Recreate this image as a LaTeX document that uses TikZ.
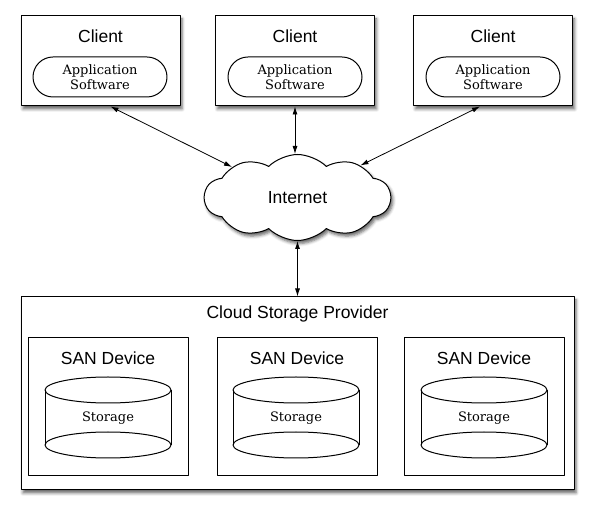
\documentclass[tikz,border=0pt]{standalone}
\usepackage{fontspec}
\setmainfont{Liberation Sans}
\newfontfamily\appfont{DejaVu Serif}
\usetikzlibrary{shapes.symbols,shadows.blur,arrows.meta}

\begin{document}
\begin{tikzpicture}[>={Latex[length=8bp,width=5bp]},line join=bevel,
  shade/.style={blur shadow={shadow xshift=2bp,shadow yshift=-3bp,shadow blur radius=3bp,shadow opacity=60}},
  clientbox/.style={draw,fill=white,shade,minimum width=159bp,minimum height=90bp,inner sep=0pt},
  appbox/.style={draw,rounded corners=20bp,minimum width=134bp,minimum height=40bp,inner sep=0pt,align=center,font=\appfont\fontsize{13bp}{15bp}\selectfont},
  sanbox/.style={draw,minimum width=160bp,minimum height=138bp,inner sep=0pt},
  label/.style={inner sep=0pt,font=\fontsize{17.5bp}{21bp}\selectfont},
  storelabel/.style={inner sep=0pt,font=\appfont\fontsize{13bp}{15bp}\selectfont},
  link/.style={<->,line width=0.8bp}]
  \pgfsetlinewidth{1bp}
  \useasboundingbox (0bp,0bp) rectangle (593bp,514bp);
%%
  % Node: client1
\begin{scope}
  \node[clientbox] (client1) at (100.5bp,453bp) {};
  \node[label] (client1label) at (100.5bp,478bp) {Client};
  \node[appbox] (app1) at (100bp,437bp) {Application\\Software};
\end{scope}
  % Node: client2
\begin{scope}
  \node[clientbox] (client2) at (295bp,453bp) {};
  \node[label] (client2label) at (295bp,478bp) {Client};
  \node[appbox] (app2) at (295bp,437bp) {Application\\Software};
\end{scope}
  % Node: client3
\begin{scope}
  \node[clientbox] (client3) at (493bp,453bp) {};
  \node[label] (client3label) at (493bp,478bp) {Client};
  \node[appbox] (app3) at (493bp,437bp) {Application\\Software};
\end{scope}
  % Node: internet
  \node[cloud,draw,fill=white,shade,cloud puffs=10,cloud puff arc=90,aspect=2.3,
        minimum width=186bp,minimum height=86bp,inner sep=0pt,label] (internet) at (297.5bp,316.5bp) {Internet};
  % Node: provider
\begin{scope}
  \node[draw,fill=white,shade,minimum width=553bp,minimum height=193bp,inner sep=0pt] (provider) at (297.5bp,120.5bp) {};
  \node[label] (providerlabel) at (297.5bp,200bp) {Cloud Storage Provider};
\end{scope}
  % Node: san1
\begin{scope}
  \node[sanbox] (san1) at (108bp,107bp) {};
  \node[label] (san1label) at (108bp,156bp) {SAN Device};
  \draw (108bp,124bp) ellipse (63bp and 13bp);
  \draw (108bp,69bp) ellipse (63bp and 13bp);
  \draw (45bp,124bp) -- (45bp,69bp);
  \draw (171bp,124bp) -- (171bp,69bp);
  \node[storelabel] (store1) at (108bp,96bp) {Storage};
\end{scope}
  % Node: san2
\begin{scope}
  \node[sanbox] (san2) at (297bp,107bp) {};
  \node[label] (san2label) at (297bp,156bp) {SAN Device};
  \draw (296bp,124bp) ellipse (63bp and 13bp);
  \draw (296bp,69bp) ellipse (63bp and 13bp);
  \draw (233bp,124bp) -- (233bp,69bp);
  \draw (359bp,124bp) -- (359bp,69bp);
  \node[storelabel] (store2) at (296bp,96bp) {Storage};
\end{scope}
  % Node: san3
\begin{scope}
  \node[sanbox] (san3) at (484bp,107bp) {};
  \node[label] (san3label) at (484bp,156bp) {SAN Device};
  \draw (484bp,124bp) ellipse (63bp and 13bp);
  \draw (484bp,69bp) ellipse (63bp and 13bp);
  \draw (421bp,124bp) -- (421bp,69bp);
  \draw (547bp,124bp) -- (547bp,69bp);
  \node[storelabel] (store3) at (484bp,96bp) {Storage};
\end{scope}
  % Edge: client1 -> internet
  \draw [link] ([xshift=10bp]client1.south) -- (internet.155);
  % Edge: client2 -> internet
  \draw [link] (client2.south) -- (client2.south |- internet.north);
  % Edge: client3 -> internet
  \draw [link] ([xshift=-13bp]client3.south) -- (internet.27);
  % Edge: internet -> provider
  \draw [link] (internet.south) -- (internet.south |- provider.north);
%
\end{tikzpicture}
\end{document}
